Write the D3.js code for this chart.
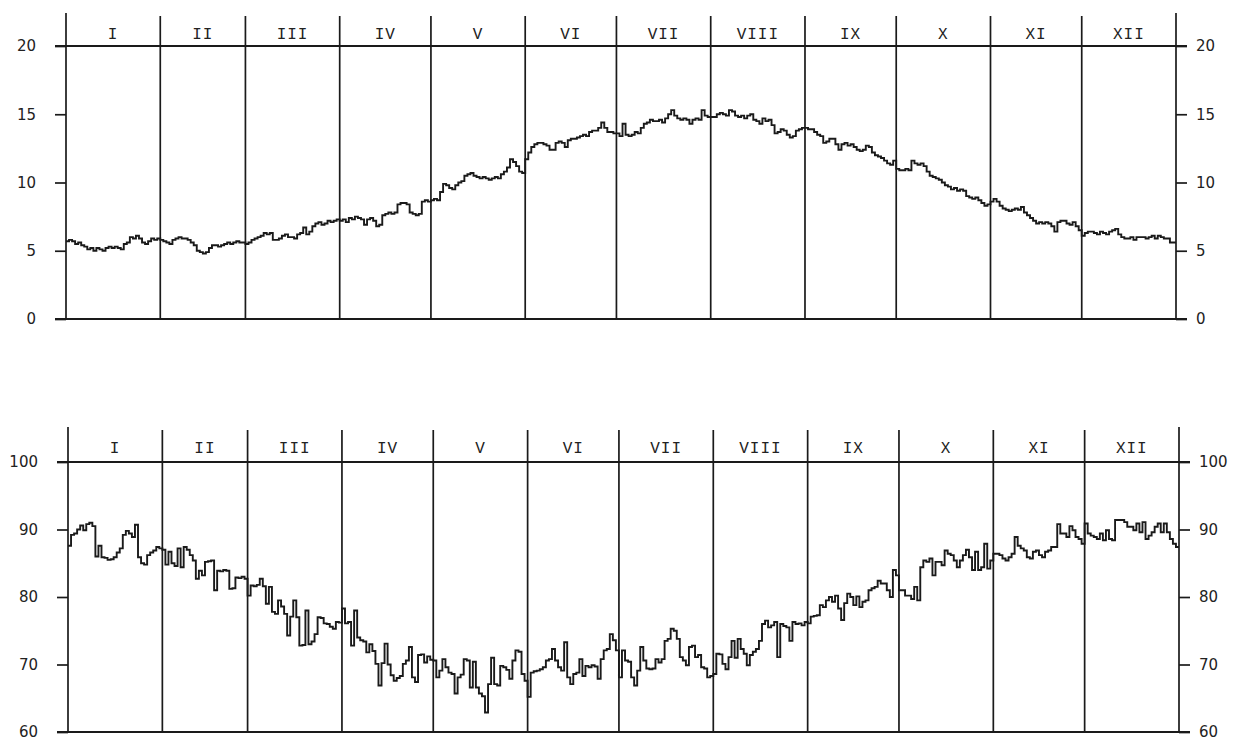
<!DOCTYPE html>
<html>
<head>
<meta charset="utf-8">
<script src="https://cdn.jsdelivr.net/npm/d3@7"></script>
<style>
  body { margin: 0; background: #fff; }
  .tick text { font-family: "DejaVu Sans", sans-serif; font-size: 15px; fill: #222; }
  .month { font-family: "Liberation Mono", monospace; font-size: 16px; letter-spacing: 1px; fill: #222; }
</style>
</head>
<body>
<div id="chart"></div>
<script>
var months = ["I","II","III","IV","V","VI","VII","VIII","IX","X","XI","XII"];
var monthDays = [31,28,31,30,31,30,31,31,30,31,30,31];
var tempTicks = [0,5,10,15,20];
var humTicks = [60,70,80,90,100];

// daily mean temperature, one line per month
var temperature = [
  5.7,5.8,5.7,5.5,5.6,5.4,5.3,5.1,5.2,5.0,5.2,5.1,5.0,5.2,5.3,5.2,5.3,5.2,5.1,5.5,5.6,6.0,5.9,6.1,5.9,5.6,5.5,5.7,5.9,5.8,5.9,
  5.8,5.7,5.6,5.5,5.8,5.9,6.0,5.9,5.9,5.8,5.6,5.4,5.0,4.9,4.8,4.9,5.2,5.4,5.4,5.3,5.4,5.5,5.6,5.5,5.6,5.7,5.6,5.6,
  5.5,5.6,5.8,5.9,6.0,6.1,6.3,6.2,6.3,5.8,5.8,5.9,6.1,6.2,6.0,6.0,5.9,6.2,6.3,6.7,6.2,6.4,6.8,7.0,7.1,6.9,7.0,7.2,7.1,7.2,7.3,
  7.2,7.3,7.1,7.4,7.3,7.5,7.4,7.3,6.9,7.3,7.4,7.2,6.8,6.9,7.6,7.7,7.8,7.7,7.8,8.4,8.5,8.5,8.4,7.8,7.7,7.6,7.7,8.6,8.7,8.6,
  8.7,8.8,8.7,9.3,9.9,9.8,9.6,9.5,9.8,10.0,10.1,10.5,10.6,10.7,10.5,10.4,10.3,10.4,10.3,10.2,10.3,10.4,10.3,10.6,10.8,11.1,11.7,11.5,11.2,10.8,10.7,
  11.7,12.2,12.6,12.8,12.9,12.9,12.8,12.7,12.4,12.4,12.9,13.0,12.9,12.6,13.1,13.2,13.2,13.3,13.4,13.5,13.4,13.7,13.8,13.8,14.0,14.4,14.0,13.7,13.7,13.6,
  13.6,13.4,14.3,13.5,13.4,13.5,13.7,13.6,14.0,14.3,14.4,14.6,14.5,14.5,14.6,14.4,14.7,15.0,15.3,14.9,14.7,14.6,14.7,14.6,14.3,14.6,14.7,14.6,15.3,14.9,14.8,
  14.8,14.8,15.0,15.1,15.0,14.9,15.3,15.2,14.9,14.8,14.9,14.7,14.9,15.0,14.6,14.5,14.3,14.7,14.5,14.6,14.2,13.6,13.7,13.9,13.8,13.5,13.3,13.4,13.8,13.9,14.0,
  14.0,13.9,13.9,13.7,13.5,13.4,12.9,13.0,13.2,13.2,12.8,12.4,12.8,12.9,12.7,12.8,12.6,12.4,12.3,12.4,12.7,12.6,12.2,12.0,11.9,11.8,11.6,11.4,11.3,11.6,
  11.0,10.9,10.9,11.0,10.9,11.6,11.4,11.3,11.4,11.2,10.8,10.5,10.4,10.3,10.2,10.0,9.8,9.7,9.5,9.6,9.4,9.5,9.4,9.0,8.9,8.8,8.9,8.7,8.5,8.3,8.4,
  8.6,8.8,8.6,8.3,8.1,8.0,7.9,8.0,8.1,8.0,8.2,7.8,7.6,7.4,7.2,7.0,7.1,7.0,7.1,7.0,6.8,6.4,7.1,7.2,7.2,7.0,6.9,7.1,6.8,6.5,
  6.1,6.3,6.4,6.4,6.3,6.2,6.4,6.3,6.2,6.4,6.5,6.6,6.2,6.0,5.9,5.9,6.0,5.8,6.0,6.0,6.0,5.9,6.0,6.1,5.9,6.1,6.0,5.9,5.9,5.6,5.6
];

// daily mean relative humidity
var humidity = [
  87.6,89.2,89.4,90.0,90.6,89.9,90.8,91.0,90.5,86.0,87.6,85.9,85.8,85.5,85.6,85.9,86.6,87.2,89.2,89.8,89.4,88.9,90.7,85.9,85.0,84.8,86.2,86.6,86.9,87.4,87.2,
  87.0,84.8,86.7,85.0,84.6,87.2,84.4,87.4,87.0,86.2,85.4,82.7,83.9,83.2,85.2,85.3,85.4,81.0,83.9,83.8,84.0,83.9,81.2,81.3,82.9,82.8,83.0,82.7,
  80.2,81.7,81.6,81.8,82.7,81.6,79.0,81.5,77.8,77.5,79.5,78.6,77.5,74.3,77.1,79.5,77.0,72.8,72.9,78.0,73.0,73.4,74.5,77.0,76.9,76.1,76.0,75.6,75.3,76.3,76.2,
  78.3,76.1,76.3,72.8,78.0,74.0,73.6,73.4,71.8,73.0,72.0,70.1,66.9,70.2,73.1,70.0,68.4,67.6,68.0,68.3,70.1,70.6,72.6,68.1,67.4,71.4,71.5,70.3,71.2,70.7,
  70.6,68.1,69.1,70.8,69.6,68.8,68.6,65.7,68.1,68.5,70.8,70.6,66.6,70.4,66.6,65.7,65.3,62.9,67.1,71.0,67.1,66.9,69.8,69.6,69.2,67.9,70.6,72.1,71.9,68.6,67.6,
  65.2,68.8,69.0,69.1,69.3,69.6,70.6,70.8,72.3,70.6,69.6,69.1,73.3,68.1,67.1,68.6,68.8,70.8,68.3,69.8,69.6,69.9,69.7,67.9,70.8,72.1,72.3,74.5,73.6,72.1,
  68.1,72.1,70.6,70.4,68.1,66.9,69.1,72.6,70.6,69.4,69.3,69.4,70.8,70.3,70.8,73.5,73.8,75.3,75.0,73.8,71.1,70.6,69.9,72.6,72.8,71.1,71.4,69.6,69.4,68.1,68.3,
  68.6,71.6,71.5,70.1,69.3,71.1,73.5,71.0,73.8,72.3,71.6,69.9,71.4,71.9,72.3,73.5,76.0,76.5,75.5,75.8,76.3,71.1,76.0,75.7,75.5,73.5,76.3,76.0,76.1,75.8,76.3,
  76.1,77.1,77.2,77.3,78.8,78.5,79.5,80.0,79.3,80.2,78.3,76.6,79.1,80.5,80.0,78.8,80.1,78.5,79.3,79.5,81.0,81.3,81.5,82.4,82.0,82.0,81.0,80.0,84.0,83.2,
  81.0,81.0,80.2,80.2,79.7,81.5,79.5,84.4,85.4,85.2,85.7,83.2,85.2,85.2,84.7,86.9,86.4,86.2,85.4,84.4,85.4,86.2,87.0,85.9,84.0,86.7,84.0,84.4,87.9,84.2,85.4,
  86.4,86.4,86.2,85.7,85.4,85.9,86.4,88.9,87.6,87.2,86.9,85.9,85.7,86.7,86.9,86.2,85.9,86.7,86.9,87.4,87.4,90.8,89.4,89.4,88.9,90.5,89.9,88.9,88.6,87.9,
  90.9,89.4,89.1,88.9,88.6,89.4,88.4,89.9,88.6,88.4,91.4,91.4,91.4,91.1,90.4,90.4,89.9,90.9,89.6,91.1,88.6,89.1,89.6,90.4,90.9,89.6,90.9,89.6,88.6,87.9,87.4
];

(function(){
  var width = 1240, height = 742;
  var ink = "#1a1a1a";

  var svg = d3.select("#chart")
    .append("svg")
    .attr("width", width)
    .attr("height", height);

  // day index where each month starts
  var starts = [0];
  monthDays.forEach(function(d, i){ starts.push(starts[i] + d); });

  function panel(values, ticks, cfg){
    var x = d3.scaleLinear().domain([0, 365]).range([cfg.left, cfg.right]);
    var y = d3.scaleLinear().domain([ticks[0], ticks[ticks.length - 1]]).range([cfg.bottom, cfg.top]);
    var g = svg.append("g");
    var ext = 11;

    // left and right axes
    var la = g.append("g")
      .attr("transform", "translate(" + cfg.left + ",0)")
      .call(d3.axisLeft(y).tickValues(ticks).tickSize(ext).tickPadding(19).tickFormat(d3.format("d")));
    var ra = g.append("g")
      .attr("transform", "translate(" + cfg.right + ",0)")
      .call(d3.axisRight(y).tickValues(ticks).tickSize(ext).tickPadding(9).tickFormat(d3.format("d")));
    [la, ra].forEach(function(a){
      a.select(".domain").remove();
      a.selectAll("line").attr("stroke", ink).attr("stroke-width", 1.7);
    });

    // top and bottom frame lines
    g.selectAll(".hline")
      .data([ticks[0], ticks[ticks.length - 1]])
      .enter().append("line")
      .attr("x1", cfg.left - ext).attr("x2", cfg.right + ext)
      .attr("y1", function(d){ return y(d); })
      .attr("y2", function(d){ return y(d); })
      .attr("stroke", ink).attr("stroke-width", 1.9);

    // month dividers
    g.selectAll(".vline")
      .data(starts)
      .enter().append("line")
      .attr("x1", function(d){ return x(d); })
      .attr("x2", function(d){ return x(d); })
      .attr("y1", function(d){ return (d === 0 || d === 365) ? cfg.capTop : cfg.capTop + 3; })
      .attr("y2", cfg.bottom)
      .attr("stroke", ink).attr("stroke-width", 1.7);

    // month labels
    g.selectAll(".month")
      .data(months)
      .enter().append("text")
      .attr("class", "month")
      .attr("text-anchor", "middle")
      .attr("x", function(d, i){ return x((starts[i] + starts[i + 1]) / 2); })
      .attr("y", cfg.labelY)
      .text(function(d){ return d; });

    // daily step line
    var pts = values.map(function(v, i){ return [i, v]; });
    pts.push([365, values[values.length - 1]]);
    var line = d3.line()
      .x(function(d){ return x(d[0]); })
      .y(function(d){ return y(d[1]); })
      .curve(d3.curveStepAfter);
    g.append("path")
      .attr("d", line(pts))
      .attr("fill", "none")
      .attr("stroke", ink)
      .attr("stroke-width", 1.9)
      .attr("stroke-linejoin", "miter");
  }

  panel(temperature, tempTicks, {left: 66, right: 1176, top: 46, bottom: 319, capTop: 13, labelY: 39});
  panel(humidity, humTicks, {left: 68, right: 1179, top: 462, bottom: 732, capTop: 427, labelY: 453});
})();
</script>
</body>
</html>
